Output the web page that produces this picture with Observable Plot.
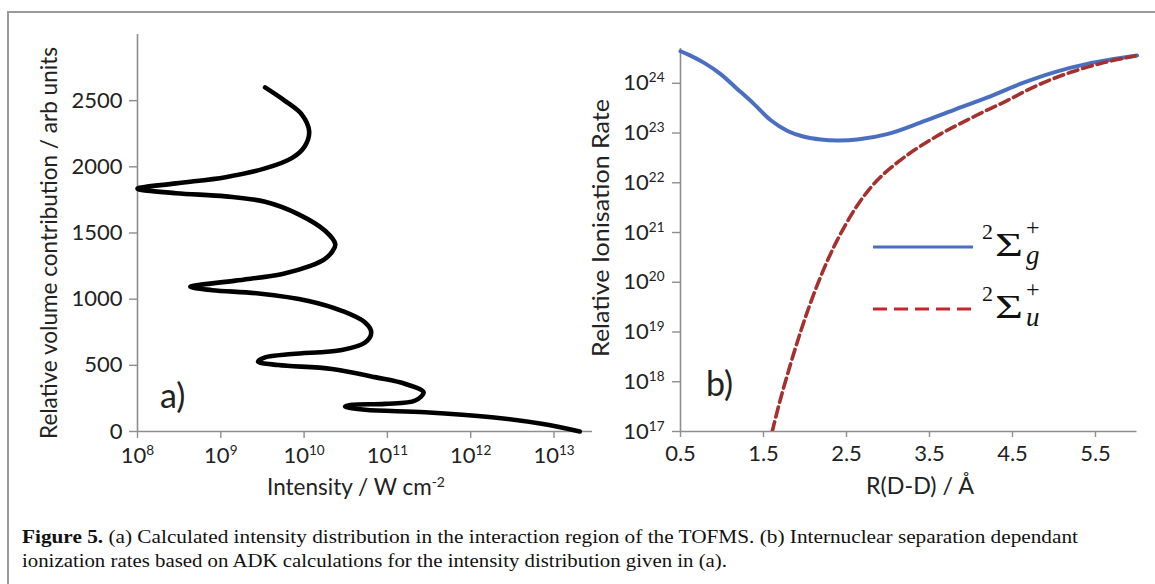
<!DOCTYPE html>
<html><head><meta charset="utf-8">
<script src="https://cdn.jsdelivr.net/npm/d3@7"></script>
<script src="https://cdn.jsdelivr.net/npm/@observablehq/plot@0.6"></script>
<style>
html,body{margin:0;padding:0;background:#fff;}
#fig{position:relative;width:1155px;height:584px;overflow:hidden;background:#fff;}
#fig > svg{position:absolute;}
</style></head><body><div id="fig"></div>
<script>
// ---------- Panel (a): intensity distribution ----------
const volume = [2600,2495,2395,2269,2156,2068,1988,1922,1875,1835,1801,1777,1736,1641,1515,1415,1360,1300,1251,1191,1140,1093,1068,1043,987,912,824,749,673,616,586,560,528,502,473,409,359,296,234,209,201,188,164,146,108,58,0];
const intensity = [3.4e9,6.0e9,9.4e9,1.15e10,1.02e10,7.2e9,3.4e9,1.14e9,2.9e8,1.0e8,2.9e8,1.14e9,3.4e9,8.6e9,1.8e10,2.37e10,2.18e10,1.75e10,1.19e10,5.5e9,1.5e9,4.3e8,7.9e8,2.85e9,1.13e10,2.84e10,5.4e10,6.4e10,5.4e10,2.84e10,7.2e9,3.4e9,2.8e9,4.9e9,2.16e10,7.3e10,1.65e11,2.72e11,2.16e11,9.4e10,3.75e10,3.1e10,5.4e10,2.84e11,1.79e12,7.1e12,2.04e13];
const volumeTicks = [0,500,1000,1500,2000,2500];
const intensityTicks = [1e8,1e9,1e10,1e11,1e12,1e13];

// ---------- Panel (b): ionisation rates ----------
const separationG = [0.5,0.62,0.78,0.98,1.18,1.38,1.58,1.79,1.99,2.19,2.39,2.63,2.99,3.39,3.79,4.2,4.6,5.0,5.4,6.0];
const rateG = [4.4e24,3.6e24,2.6e24,1.55e24,7.8e23,3.9e23,1.85e23,1.1e23,8.4e22,7.4e22,7.1e22,7.4e22,9.5e22,1.62e23,2.9e23,5.2e23,9.8e23,1.66e24,2.45e24,3.6e24];
const separationU = [1.605,1.7,1.83,1.95,2.07,2.23,2.39,2.63,2.87,3.19,3.59,4.0,4.4,4.8,5.2,5.6,6.0];
const rateU = [1.0e17,4.2e17,2.4e18,1.05e19,4.0e19,1.9e20,7.1e20,3.5e21,1.12e22,3.2e22,8.7e22,2.0e23,4.2e23,9.1e23,1.66e24,2.6e24,3.6e24];
const separationTicks = [0.5,1.5,2.5,3.5,4.5,5.5];
const rateTicks = [1e17,1e18,1e19,1e20,1e21,1e22,1e23,1e24];
const seriesSubscripts = ["g","u"];
const seriesColors = ["#4a6fc1","#a5312f"];
const legendColors = ["#4a6fc1","#c4262b"];

const axisColor = "#8e8e8e";
const textColor = "#222";
const tickFont = "Lato, 'Open Sans', sans-serif";
const tickSize = 22;
const powerFormat = d => "10^" + Math.round(Math.log10(d));

const fig = document.getElementById("fig");

const dataA = volume.map((v,i) => ({volume: v, intensity: intensity[i]}));
const plotA = Plot.plot({
  width: 600, height: 490,
  marginLeft: 137, marginRight: 8, marginTop: 34, marginBottom: 59,
  style: {fontFamily: tickFont, fontSize: tickSize + "px", color: textColor, background: "transparent", overflow: "visible"},
  x: {type: "log", domain: [1e8, 2.9e13]},
  y: {domain: [0, 3000]},
  marks: [
    Plot.ruleX([intensityTicks[0]], {stroke: axisColor, strokeWidth: 1.6}),
    Plot.ruleY([volumeTicks[0]], {stroke: axisColor, strokeWidth: 1.6}),
    Plot.axisX({ticks: intensityTicks, tickFormat: powerFormat, tickSize: 7, tickPadding: 9, stroke: axisColor, fill: textColor, strokeWidth: 1.4, fontSize: tickSize, label: null}),
    Plot.axisY({ticks: volumeTicks, tickFormat: d => String(d), tickSize: 8, tickPadding: 7, stroke: axisColor, fill: textColor, strokeWidth: 1.4, fontSize: tickSize, label: null}),
    Plot.line(dataA, {x: "intensity", y: "volume", curve: "catmull-rom", stroke: "#000", strokeWidth: 4.6})
  ]
});
plotA.style.left = "0px"; plotA.style.top = "0px";
fig.appendChild(plotA);

const dataG = separationG.map((r,i) => ({r, rate: rateG[i]}));
const dataU = separationU.map((r,i) => ({r, rate: rateU[i]}));
const plotB = Plot.plot({
  width: 575, height: 490,
  marginLeft: 100, marginRight: 18.5, marginTop: 48, marginBottom: 59,
  style: {fontFamily: tickFont, fontSize: tickSize + "px", color: textColor, background: "transparent", overflow: "visible"},
  x: {domain: [0.5, 6]},
  y: {type: "log", domain: [1e17, 5e24]},
  marks: [
    Plot.ruleX([separationTicks[0]], {stroke: axisColor, strokeWidth: 1.6}),
    Plot.ruleY([rateTicks[0]], {stroke: axisColor, strokeWidth: 1.6}),
    Plot.axisX({ticks: separationTicks, tickFormat: d => d.toFixed(1), tickSize: 6, tickPadding: 8, stroke: axisColor, fill: textColor, strokeWidth: 1.4, fontSize: tickSize, label: null}),
    Plot.axisY({ticks: rateTicks, tickFormat: powerFormat, tickSize: 8, tickPadding: 8, stroke: axisColor, fill: textColor, strokeWidth: 1.4, fontSize: tickSize, label: null}),
    Plot.line(dataG, {x: "r", y: "rate", curve: "catmull-rom", stroke: seriesColors[0], strokeWidth: 4}),
    Plot.line(dataU, {x: "r", y: "rate", curve: "catmull-rom", stroke: seriesColors[1], strokeWidth: 3.6, strokeDasharray: "10,5", clip: true})
  ]
});
plotB.style.left = "580px"; plotB.style.top = "0px";
fig.appendChild(plotB);

// superscript exponents in tick labels
const NS = "http://www.w3.org/2000/svg";
[plotA, plotB].forEach(svg => {
  svg.querySelectorAll("text").forEach(t => {
    const s = t.textContent;
    if (s.includes("^") && !t.querySelector("tspan")) {
      const [b, e] = s.split("^");
      t.textContent = b;
      const sp = document.createElementNS(NS, "tspan");
      sp.setAttribute("font-size", "13.5");
      sp.setAttribute("dy", "-8");
      sp.textContent = e;
      t.appendChild(sp);
    }
  });
});

// ---------- overlay: frame, titles, panel letters, legend, caption ----------
const ov = document.createElementNS(NS, "svg");
ov.setAttribute("width", 1155); ov.setAttribute("height", 584);
ov.style.left = "0px"; ov.style.top = "0px";
fig.appendChild(ov);
function add(tag, attrs, text, parent) {
  const e = document.createElementNS(NS, tag);
  for (const k in attrs) e.setAttribute(k, attrs[k]);
  if (text != null) e.textContent = text;
  (parent || ov).appendChild(e);
  return e;
}
add("path", {d: "M8,584V12H1155", fill: "none", stroke: "#9a9a9a", "stroke-width": 2});

const titleStyle = {fill: textColor, "font-family": tickFont, "font-size": 22.5, lengthAdjust: "spacingAndGlyphs"};
add("text", {...titleStyle, "text-anchor": "middle", transform: "translate(57,243) rotate(-90)", textLength: 392}, "Relative volume contribution / arb units");
const xa = add("text", {...titleStyle, "text-anchor": "middle", x: 356, y: 495}, "Intensity / W cm");
add("tspan", {"font-size": 14, dy: -8}, "-2", xa);
add("text", {...titleStyle, "text-anchor": "middle", transform: "translate(609,228) rotate(-90)", textLength: 258}, "Relative Ionisation Rate");
add("text", {...titleStyle, "text-anchor": "middle", x: 920, y: 494, textLength: 108}, "R(D-D) / Å");

add("text", {fill: textColor, "font-family": tickFont, "font-size": 34, x: 160, y: 408}, "a)");
add("text", {fill: textColor, "font-family": tickFont, "font-size": 34, x: 706, y: 396}, "b)");

// legend
const legendY = [247, 309];
const serif = "'Liberation Serif', 'DejaVu Serif', serif";
seriesSubscripts.forEach((sub, i) => {
  const L = legendY[i];
  add("line", {x1: 873, x2: 973, y1: L, y2: L, stroke: legendColors[i], "stroke-width": 3,
    ...(i === 1 ? {"stroke-dasharray": "14,7"} : {})});
  add("text", {x: 982, y: L - 8, "font-family": serif, "font-size": 22, fill: "#111"}, "2");
  add("text", {x: 995, y: L + 9, "font-family": serif, "font-size": 34, fill: "#111", textLength: 28, lengthAdjust: "spacingAndGlyphs"}, "Σ");
  add("text", {x: 1026, y: L - 12, "font-family": serif, "font-size": 24, fill: "#111"}, "+");
  add("text", {x: 1026, y: L + 17, "font-family": serif, "font-size": 27, "font-style": "italic", fill: "#111"}, sub);
});

// caption
const capFont = "'Liberation Serif', 'DejaVu Serif', serif";
const c1 = add("text", {x: 22, y: 543, "font-family": capFont, "font-size": 19, fill: "#111", textLength: 1056, lengthAdjust: "spacingAndGlyphs"});
add("tspan", {"font-weight": "bold"}, "Figure 5.", c1);
add("tspan", {}, " (a) Calculated intensity distribution in the interaction region of the TOFMS. (b) Internuclear separation dependant", c1);
add("text", {x: 22, y: 567, "font-family": capFont, "font-size": 19, fill: "#111", textLength: 705, lengthAdjust: "spacingAndGlyphs"},
  "ionization rates based on ADK calculations for the intensity distribution given in (a).");
</script></body></html>
